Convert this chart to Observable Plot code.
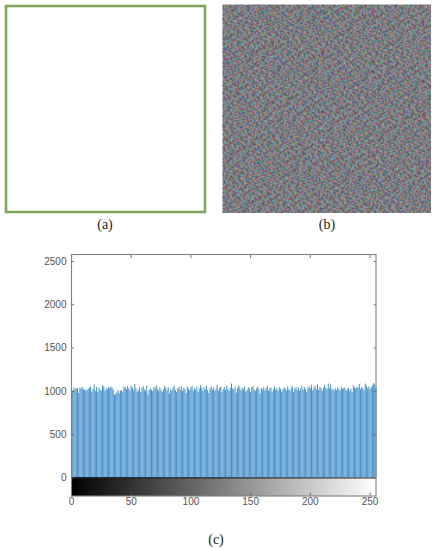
<!DOCTYPE html>
<html>
<head>
<meta charset="utf-8">
<script src="https://cdn.jsdelivr.net/npm/d3@7"></script>
<script src="https://cdn.jsdelivr.net/npm/@observablehq/plot@0.6"></script>
<style>
html,body{margin:0;padding:0;background:#fff}
#page{position:relative;width:436px;height:550px;overflow:hidden}
#page svg,#page figure{position:absolute;margin:0}
.cap{position:absolute;font:14px "Liberation Serif",serif;color:#222;transform:translateX(-50%)}
</style>
</head>
<body>
<div id="page"></div>
<script>
const captions = ["(a)", "(b)", "(c)"];
const yTicks = [0, 500, 1000, 1500, 2000, 2500];
const xTicks = [0, 50, 100, 150, 200, 250];
const histCounts = [
1095,1005,1040,1020,1035,1030,975,1035,1030,1045,1015,1020,1005,1010,1025,1040,
1050,990,1020,1075,1000,1045,985,1035,1015,1000,1065,1050,1000,1030,1020,1045,
1030,1050,1040,1010,955,970,985,1010,975,1000,1010,990,1050,1040,1020,1055,
1030,1005,1060,1040,1005,1080,1030,990,1010,1050,985,1035,1055,1020,1000,1060,
960,1010,1030,1015,1000,1045,1030,1060,1020,1000,1040,1010,990,1020,1055,1035,
1005,1045,970,1020,1000,1040,1060,1010,985,1030,1045,1015,1055,1000,1035,1020,
975,1050,1025,1005,1040,1060,1000,1030,1015,1050,990,1025,1065,1035,1000,1045,
1020,1060,1010,975,1030,1050,1015,1040,1000,1025,1070,1005,1035,1050,990,1020,
1045,1010,1060,1025,1000,1040,1085,1030,1015,1050,980,1025,1060,1040,1005,1035,
1020,1050,990,1010,1045,1025,985,1040,1055,1015,1000,1030,1050,1020,970,1035,
1015,1045,1005,1030,1060,1000,1025,1040,985,1020,1050,1010,1035,1000,1045,1025,
990,1015,1040,1030,1005,1050,1020,1000,1035,1055,985,1025,1045,1015,1040,1000,
1030,1060,1010,1045,1020,990,1035,1055,1030,1070,1005,1040,1060,1020,1075,1010,
1045,1030,1000,1040,1070,1035,1020,1085,1030,1075,1015,1025,1005,1030,1010,1040,
1020,1005,1045,1025,1030,1040,1005,1020,1035,1000,1025,985,1065,1040,1030,1050,
1035,1080,1020,1045,1030,1010,1085,1060,1030,1050,1020,1040,1065,1090,1075,1030
];
const grayLevels = d3.range(256);
const noisePalette = ["#7a5490","#489484","#9c7a52","#5476ac","#a0527e","#6ea058","#ae96ae","#465860","#b46e68","#5cacac"];
const noiseRows = [
"730519284617390258461703925846172039","159372046815820739416250837194602581",
"842061957302648175093826417590362847","306728149560391847265013982746051938",
"691483027516274905831649270385196402","024957318642809153764208591367840215",
"578103692485136027948513602974381560","263840715920657381402769835140692783",
"917256034871429605318704926153087249","480619352768053192746385014297658130",
"135794860213768402951627384059126473","706342918547291063584910627385402916",
"249081673509845712630956178423760598","861725340196302485971243506819234075",
"053946281734619870253178469021587346","394218607523950148726305981476120859",
"618570429361287596304862175093648201","725093186420471836592740318659205734",
"140862537986053279418165723408961257","987351240675129408635972018346572090",
"362740915823684517092483659120738465","509128673041397265840617382954016728",
"271695834106520983714036297581640392","846302157968741250369825401637259081",
"093587241630298614570192864375108246","657214908352069871342560719248396510",
"318460725197483520896713042865127934","724091563820156397480289516043782651",
"165938207461972048356471829350641087","490723681508347162095836240197558243",
"832156940372605891427301958642079316","206847315958124670389562173408916725",
"571390248664907352180247695831342068","948215073120586439762918034576201983",
"035672891407392158640153867294018756","612489530786241907358640172935864120"];
const W = 436;

const page = document.getElementById("page");
function place(node, left, top) {
  node.style.left = left + "px"; node.style.top = top + "px"; page.appendChild(node);
}
function caption(text, x, y) {
  const d = document.createElement("div");
  d.className = "cap"; d.textContent = text;
  d.style.left = x + "px"; d.style.top = y + "px"; page.appendChild(d);
}

// (a) empty green square
place(Plot.plot({
  width: 203, height: 210, margin: 0,
  x: {domain: [0, 1], axis: null}, y: {domain: [0, 1], axis: null},
  marks: [Plot.rect([0], {x1: 0, x2: 1, y1: 0, y2: 1, fill: "#fff", stroke: "#7fa85c", strokeWidth: 2.6, inset: 2})]
}), 3.5, 3.5);

// (b) noise image
const N = 150, T = noiseRows.length;
place(Plot.plot({
  width: 209, height: 209, margin: 0,
  x: {domain: [0, N], axis: null}, y: {domain: [0, N], axis: null},
  color: {type: "ordinal", domain: d3.range(10), range: noisePalette},
  marks: [Plot.raster({
    x1: 0, x2: N, y1: 0, y2: N, width: N, height: N,
    fill: (x, y) => {
      const i = Math.floor(x), j = Math.floor(y);
      return +noiseRows[(j + 7 * Math.floor(i / T)) % T][(i + 11 * Math.floor(j / T)) % T];
    }
  })]
}), 222, 4);

// (c) histogram
const yMin = -208, yMax = 2581;
const tickStyle = {stroke: "#555", strokeWidth: 0.8, tickSize: -3, text: null};
const labelStyle = {stroke: null, tickSize: 0, fill: "#555", fontSize: 10, fontFamily: "Liberation Sans, Arial, sans-serif"};
place(Plot.plot({
  width: W, height: 270,
  marginLeft: 71, marginRight: 60.5, marginTop: 14, marginBottom: 14.5,
  style: {overflow: "visible"},
  x: {domain: [0, 255], axis: null},
  y: {domain: [yMin, yMax], axis: null},
  marks: [
    Plot.rect(grayLevels, {x1: d => d, x2: d => Math.min(d + 2, 255), y1: yMin, y2: 0, fill: d => `rgb(${d},${d},${d})`, shapeRendering: "crispEdges"}),
    Plot.ruleX(grayLevels, {x: d => d, y1: 0, y2: d => histCounts[d], stroke: "#0a6cb8", strokeWidth: 0.75}),
    Plot.ruleY([0], {stroke: "#222", strokeWidth: 1}),
    Plot.axisY(yTicks, {...tickStyle, anchor: "left"}),
    Plot.axisY(yTicks, {...tickStyle, anchor: "right"}),
    Plot.axisX(xTicks, {...tickStyle, anchor: "bottom"}),
    Plot.axisX(xTicks, {...tickStyle, anchor: "top"}),
    Plot.axisY(yTicks, {...labelStyle, anchor: "left", tickPadding: 5, tickFormat: d => String(d)}),
    Plot.axisX(xTicks, {...labelStyle, anchor: "bottom", tickPadding: 2, tickFormat: d => String(d)}),
    Plot.frame({stroke: "#808080", strokeWidth: 1.1})
  ]
}), 0, 240);

caption(captions[0], 105, 217);
caption(captions[1], 327, 217);
caption(captions[2], 216, 532);
</script>
</body>
</html>
